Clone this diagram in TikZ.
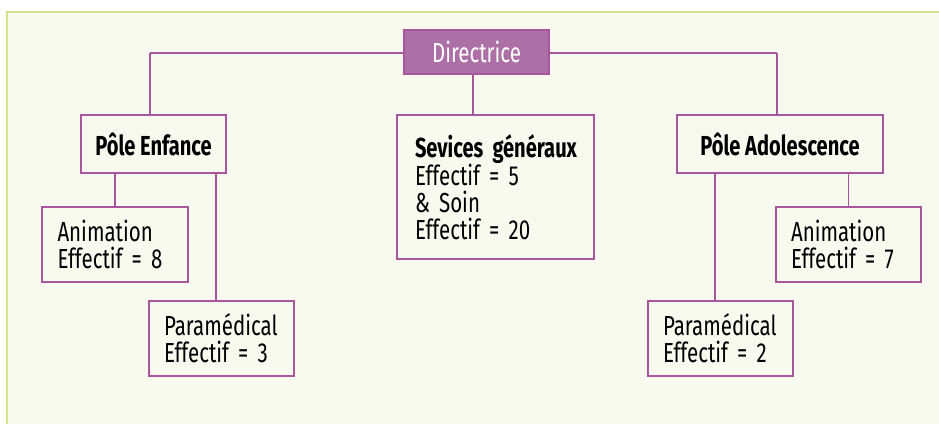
\documentclass[tikz,border=0pt]{standalone}
\usepackage{fontspec}
\setmainfont{Fira Sans}[FakeStretch=0.745, BoldFeatures={FakeStretch=0.73}]
\usetikzlibrary{positioning}
\definecolor{panelbg}{HTML}{F8F9EF}
\definecolor{panelrule}{HTML}{D6E38A}
\definecolor{orgline}{HTML}{A8579F}
\definecolor{orgfill}{HTML}{AD70A6}
\tikzstyle{head} = [
	rectangle,
	minimum width=145pt,
	minimum height=44pt,
	inner sep=0pt,
	draw=orgline,
	line width=1.2pt,
	fill=orgfill,
	text=white,
	font=\fontsize{27.5}{27}\selectfont
]
\tikzstyle{pole} = [
	rectangle,
	minimum height=58pt,
	inner sep=0pt,
	draw=orgline,
	line width=1.2pt,
	fill=panelbg,
	font=\fontsize{27.5}{27}\selectfont\bfseries
]
\tikzstyle{unit} = [
	rectangle,
	minimum width=145pt,
	minimum height=75pt,
	inner xsep=15pt,
	inner ysep=0pt,
	text width=115pt,
	align=left,
	draw=orgline,
	line width=1.2pt,
	fill=panelbg,
	font=\fontsize{27.5}{27}\selectfont
]
\tikzstyle{link} = [orgline, line width=1.3pt]

\begin{document}
\begin{tikzpicture}[x=1pt, y=-1pt]

		\useasboundingbox (0,0) rectangle (939,423);
		\fill[panelbg] (7,12) rectangle (940,424);
		\draw[panelrule, line width=1.2pt] (7,424) -- (7,12) -- (940,12);

		% links first, boxes are drawn on top
		\coordinate (leftcorner) at (150,53);
		\coordinate (rightcorner) at (777,53);
		\draw [link] (leftcorner) -- (rightcorner);
		\draw [link] (leftcorner) -- (150,115);
		\draw [link] (rightcorner) -- (777,115);

		\node (directrice) [head] at (476.5,52) {Directrice};

		\node (enfance) [pole, minimum width=145pt] at (153.5,144) {Pôle Enfance};
		\node (generaux) [unit, minimum width=197pt, minimum height=144pt, inner xsep=18pt, text width=161pt] at (495.5,187) {\mbox{\textbf{Sevices généraux}}\\Effectif = 5\\\&~Soin\\Effectif = 20};
		\node (adolescence) [pole, minimum width=206pt] at (780,144) {Pôle Adolescence};

		\node (animenf) [unit, minimum width=146pt] at (115,244.5) {Animation\\Effectif = 8};
		\node (paraenf) [unit] at (221.5,338.5) {Paramédical\\Effectif = 3};
		\node (animado) [unit] at (848.5,244.5) {Animation\\Effectif = 7};
		\node (paraado) [unit] at (720.5,338.5) {Paramédical\\Effectif = 2};

		\draw [link] ([xshift=-3.5pt]directrice.south) -- ([xshift=-3.5pt]directrice.south |- generaux.north);

		\draw [link] (enfance.south -| animenf.north) -- (animenf.north);
		\draw [link] ([xshift=-5.5pt]enfance.south -| paraenf.north) -- ([xshift=-5.5pt]paraenf.north);
		\draw [link] ([xshift=-5.5pt]adolescence.south -| paraado.north) -- ([xshift=-5.5pt]paraado.north);
		\draw [link] (adolescence.south -| animado.north) -- (animado.north);

	\end{tikzpicture}
\end{document}
